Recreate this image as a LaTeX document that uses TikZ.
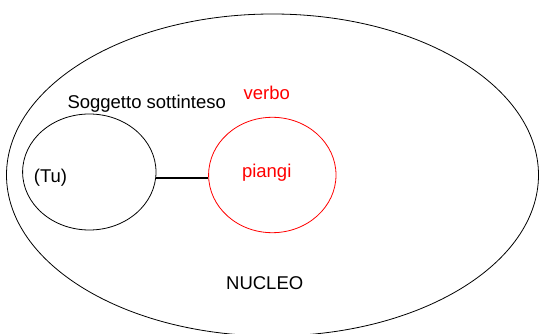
\documentclass[tikz,border=0pt]{standalone}
\usepackage{fontspec}
\setmainfont{Liberation Sans}
\usetikzlibrary{shapes.geometric}
\begin{document}
\begin{tikzpicture}[x=1pt,y=-1pt,
  lbl/.style={inner sep=0pt,font=\fontsize{18.5}{22}\selectfont},
  outline/.style={draw,line width=0.8pt}]
\useasboundingbox (0,0) rectangle (539,334);
\begin{scope}
\clip (0,0) rectangle (539,334);
\node[outline,ellipse,minimum width=532pt,minimum height=322pt,inner sep=0pt] (nucleo) at (272.5,175) {};
\end{scope}
\node[outline,ellipse,minimum width=133.4pt,minimum height=116pt,inner sep=0pt] (sogg) at (89.3,172) {};
\node[outline,draw=red,ellipse,minimum width=127.4pt,minimum height=115.4pt,inner sep=0pt] (verbo) at (272.3,175) {};
\draw[line width=1.8pt] (sogg.east |- 0,177.7) -- (verbo.west |- 0,177.7);
\node[lbl] (tsogg) at (146.7,104) {Soggetto sottinteso};
\node[lbl,text=red] (tverbo) at (266.7,93.3) {verbo};
\node[lbl] (ttu) at (50.5,178) {(Tu)};
\node[lbl,text=red] (tpiangi) at (266.7,173) {piangi};
\node[lbl] (tnucleo) at (264.7,283) {NUCLEO};
\end{tikzpicture}
\end{document}
